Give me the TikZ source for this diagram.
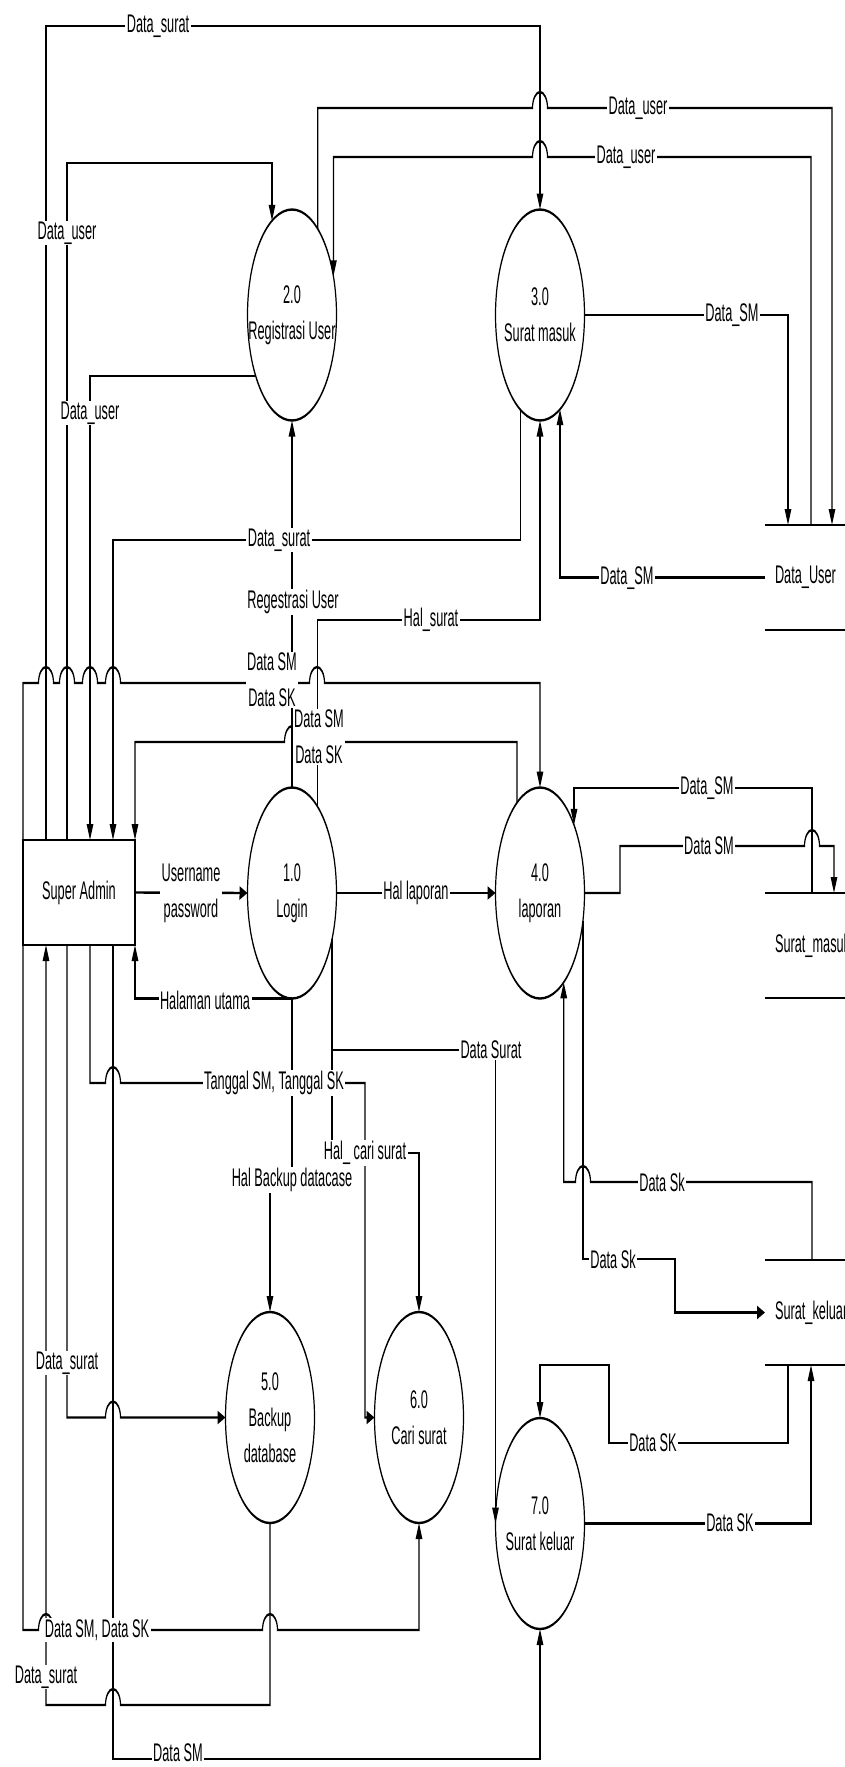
\documentclass[tikz,border=0pt]{standalone}
\usepackage{fontspec}
\setmainfont{Liberation Sans}
\usetikzlibrary{
  arrows.meta,      % Triangle 箭头
  shapes.geometric  % ellipse 过程节点
}
\newcommand{\dfdfont}{\fontsize{25.5pt}{36pt}\selectfont}
% 水平线跨越竖线时的小弧（向右走 / 向左走）
\newcommand{\hopr}[2]{-- ({#1-7.5},#2) arc[start angle=180, end angle=0, x radius=15pt, y radius=16pt]}
\newcommand{\hopl}[2]{-- ({#1+7.5},#2) arc[start angle=0, end angle=180, x radius=15pt, y radius=16pt]}
\tikzset{
  process/.style={
    ellipse, draw, line width=2.4pt,
    minimum width=178pt, minimum height=211pt,
    inner sep=0pt, outer sep=0pt
  },
  process text/.style={
    align=center, font=\dfdfont
  },
  entity/.style={
    draw, line width=2.4pt,
    minimum width=224pt, minimum height=105pt,
    inner sep=0pt, outer sep=0pt, font=\dfdfont
  },
  store/.style={
    anchor=west, minimum height=105pt,
    inner xsep=20pt, inner ysep=0pt, outer sep=0pt, font=\dfdfont
  },
  store edge/.style={
    line width=2.8pt
  },
  flow/.style={
    line width=2.4pt,
    -{Triangle[length=16pt, width=13pt]}
  },
  data label/.style={
    fill=white, inner xsep=3pt, inner ysep=1pt,
    align=center, font=\dfdfont
  }
}

\begin{document}
\begin{tikzpicture}[x=2pt, y=-1pt]
  % 0. 画布
  \fill[white, use as bounding box] (0pt,0pt) rectangle (845pt,-1767pt);

  \begin{scope}[transform canvas={xscale=0.5}]
    % 1. 外部实体、过程与数据存储
    \node[entity] (sa) at (79,892.5) {Super Admin};

    \node[process] (reg) at (292,315) {};
    \node[process text] (reg-t) at (reg) {2.0\\Registrasi User};
    \node[process] (masuk) at (540,315) {};
    \node[process text] (masuk-t) at (masuk) {3.0\\Surat masuk};
    \node[process] (login) at (292,893) {};
    \node[process text] (login-t) at (login) {1.0\\Login};
    \node[process] (lap) at (540,893) {};
    \node[process text] (lap-t) at (lap) {4.0\\laporan};
    \node[process] (backup) at (270,1417.5) {};
    \node[process text] (backup-t) at (backup) {5.0\\Backup\\database};
    \node[process] (cari) at (419,1417.5) {};
    \node[process text] (cari-t) at (cari) {6.0\\Cari surat};
    \node[process] (keluar) at (540,1523.5) {};
    \node[process text] (keluar-t) at (keluar) {7.0\\Surat keluar};

    \node[store] (du) at (765,577.5) {Data\_User};
    \node[store] (sm) at (765,945.5) {Surat\_masuk};
    \node[store] (sk) at (765,1312.5) {Surat\_keluar};
    \foreach \s in {du, sm, sk} {
      \draw[store edge] (\s.north west) -- ++(100,0);
      \draw[store edge] (\s.south west) -- ++(100,0);
    }

    % 2. 上半部分数据流
    \draw[flow] (sa.north -| 46,0) |- (masuk.north |- 0,26) -- (masuk.north);
    \draw[flow] (sa.north -| 67,0) |- (reg.113 |- 0,163) -- (reg.113);
    \draw[flow] (reg.220) -| (sa.north -| 90,0);
    \draw[flow] (masuk.248) |- (113,540) -- (sa.north -| 113,0);
    \draw[flow] (login.north) -- (reg.south);
    \draw[flow] (login.60) |- (masuk.south |- 0,620) -- (masuk.south);
    \draw[flow] (sa.north west) -- (23,683) \hopr{46}{683} \hopr{67}{683}
      \hopr{90}{683} \hopr{113}{683} \hopr{317}{683}
      -- (lap.north |- 0,683) -- (lap.north);
    \draw[flow] (lap.117) -- (lap.117 |- 0,742) \hopl{292}{742}
      -- (135,742) -- (sa.north east);
    \draw[flow] (reg.59) -- (reg.59 |- 0,108) \hopr{540}{108}
      -- (832,108) -- (832,0 |- du.north);
    \draw[flow] (du.north -| 811,0) -- (811,157) \hopl{540}{157}
      -- (reg.25 |- 0,157) -- (reg.25);
    \draw[flow] (masuk.east) -| (du.north -| 788,0);
    \draw[flow] (du.west) -| (masuk.-67);

    % 3. 登录周围的数据流
    \draw[flow] (sa.east) -- (login.west);
    \draw[flow] (login.east) -- (lap.west);
    \draw[flow] (login.south) -| (sa.south east);
    \draw[flow] (login.south) |- (backup.north |- 0,1180) -- (backup.north);
    \draw[flow] (login.-30) |- (cari.north |- 0,1153) -- (cari.north);
    \draw[flow] (login.-30) |- (keluar.west |- 0,1050) -- (keluar.west);

    % 4. 下半部分数据流
    \draw[flow] (sa.south -| 90,0) -- (90,1083) \hopr{113}{1083}
      -- (365,1083) |- (cari.west);
    \draw[flow] (sa.south -| 67,0) -- (67,1417.5) \hopr{113}{1417.5}
      -- (backup.west);
    \draw[flow] (sa.south west) -- (23,1630) \hopr{46}{1630}
      \hopr{270}{1630} -| (cari.south);
    \draw[flow] (backup.south) -- (270,1705) \hopl{113}{1705}
      -- (46,1705) -- (sa.south -| 46,0);
    \draw[flow] (sa.south -| 113,0) |- (keluar.south |- 0,1759) -- (keluar.south);

    % 5. 右侧与数据存储之间的数据流
    \draw[flow] (sm.north -| 812,0) -- (812,788) -| (lap.45);
    \draw[flow] (lap.east) -- (620,893) -- (620,846) \hopr{812}{846}
      -- (834,846) -- (sm.north -| 834,0);
    \draw[flow] (sk.north -| 812,0) -- (812,1182) \hopl{583}{1182} -| (lap.-62);
    \draw[flow] (lap.-18) |- (675,1259) |- (sk.west);
    \draw[flow] (sk.south -| 788,0) -- (788,1443) -- (609,1443)
      -- (609,1365) -| (keluar.north);
    \draw[flow] (keluar.east) -| (sk.south -| 811,0);

    % 6. 数据流标签
    \node[data label] (n1) at (158,26) {Data\_surat};
    \node[data label] (n2) at (638,108) {Data\_user};
    \node[data label] (n3) at (626,157) {Data\_user};
    \node[data label] (n4) at (67,233) {Data\_user};
    \node[data label] (n5) at (90,413) {Data\_user};
    \node[data label] (n6) at (732,315) {Data\_SM};
    \node[data label] (n7) at (279,540) {Data\_surat};
    \node[data label] (n8) at (627,578) {Data\_SM};
    \node[data label] (n9) at (293,602) {Regestrasi User};
    \node[data label] (n10) at (431,620) {Hal\_surat};
    \node[data label] (n11) at (272,680) {Data SM\\Data SK};
    \node[data label] (n12) at (319,737) {Data SM\\Data SK};
    \node[data label] (n13) at (707,788) {Data\_SM};
    \node[data label] (n14) at (709,846) {Data SM};
    \node[data label] (n15) at (191,893) {Username\\password};
    \node[data label] (n16) at (416,893) {Hal laporan};
    \node[data label] (n17) at (205,1000) {Halaman utama};
    \node[data label] (n18) at (491,1050) {Data Surat};
    \node[data label] (n19) at (274,1083) {Tanggal SM, Tanggal SK};
    \node[data label] (n20) at (365,1153) {Hal\_ cari surat};
    \node[data label] (n21) at (292,1180) {Hal Backup datacase};
    \node[data label] (n22) at (662,1182) {Data Sk};
    \node[data label] (n23) at (613,1259) {Data Sk};
    \node[data label] (n24) at (67,1363) {Data\_surat};
    \node[data label] (n25) at (653,1443) {Data SK};
    \node[data label] (n26) at (730,1523) {Data SK};
    \node[data label] (n27) at (97,1630) {Data SM, Data SK};
    \node[data label] (n28) at (46,1677) {Data\_surat};
    \node[data label, inner ysep=0pt] (n29) at (178,1753) {Data SM};
  \end{scope}
\end{tikzpicture}
\end{document}
